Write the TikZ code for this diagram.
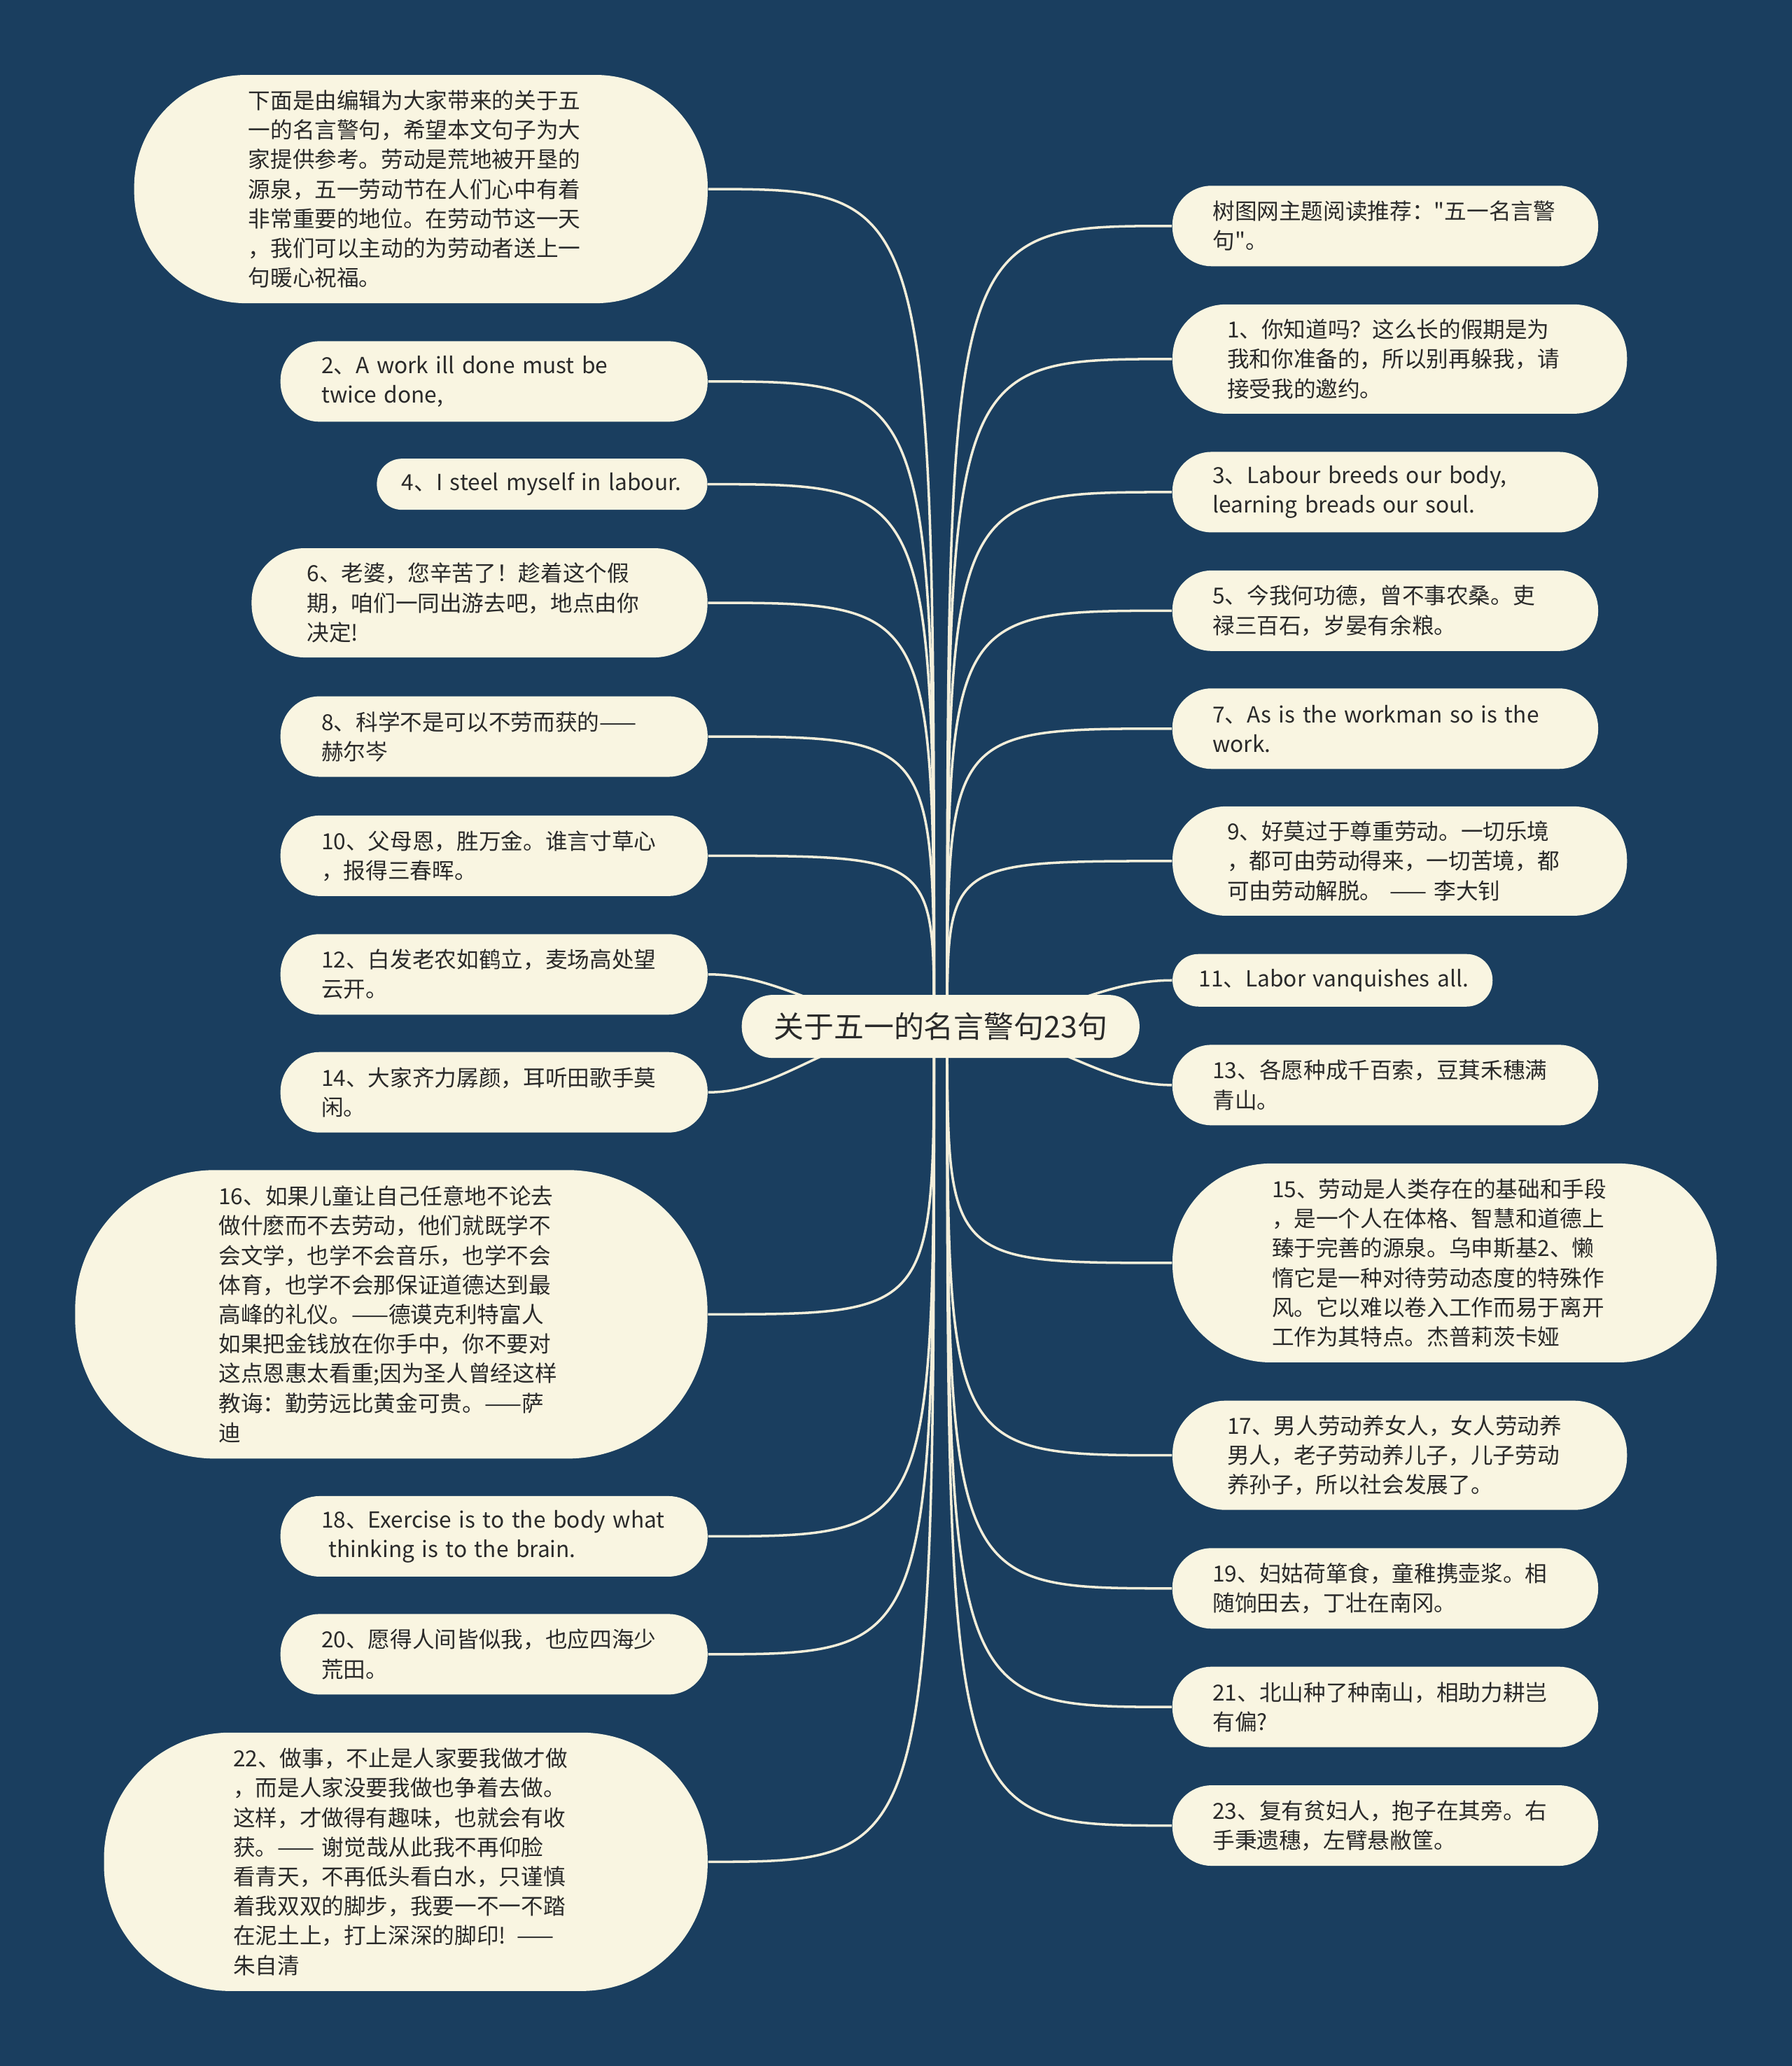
\documentclass[tikz,border=0pt]{standalone}
\usepackage{fontspec}
\setmainfont{Noto Sans CJK SC}[Ligatures=TeXOff]
\usepackage{tikz}
\definecolor{navy}{HTML}{1A3E5F}
\definecolor{cream}{HTML}{F9F5E1}
\definecolor{ink}{HTML}{2A2A2A}
\definecolor{wire}{HTML}{F3EEDA}
\pgfdeclarelayer{back}
\pgfdeclarelayer{wires}
\pgfsetlayers{back,wires,main}
\tikzset{
  every picture/.style={line join=round, line cap=round},
  leaf/.style={fill=cream, text=ink, font=\fontsize{9}{12}\selectfont, align=left, text width=4.93cm, inner xsep=0pt, inner ysep=0pt},
  duo/.style={minimum width=6.10cm, minimum height=1.15cm, rounded corners=0.56cm},
  trio/.style={minimum width=6.49cm, minimum height=1.56cm, rounded corners=0.76cm},
  hubbox/.style={fill=cream, text=ink, font=\fontsize{12.2}{15}\selectfont, minimum width=5.68cm, minimum height=0.9cm, rounded corners=0.44cm, inner sep=0pt},
  wire/.style={draw=wire, line width=1pt},
}

\begin{document}
\begin{tikzpicture}[x=0.01882cm, y=-0.01882cm]
\begin{pgfonlayer}{back}
\fill[navy] (0,0) rectangle (1360,1568);
\end{pgfonlayer}

\node[hubbox] (hub) at (714,779) {关于五一的名言警句23句};
\coordinate (hubL) at (709,779);
\coordinate (hubR) at (719,779);

\node[leaf, minimum width=8.19cm, minimum height=3.26cm, rounded corners=1.6cm] (intro) at (319.5,143.5) {下面是由编辑为大家带来的关于五\\一的名言警句，希望本文句子为大\\家提供参考。劳动是荒地被开垦的\\源泉，五一劳动节在人们心中有着\\非常重要的地位。在劳动节这一天\\，我们可以主动的为劳动者送上一\\句暖心祝福。};
\node[leaf, duo] (q2) at (375,289.5) {2、A work ill done must be\\twice done,};
\node[leaf, text width=4.01cm, minimum width=4.72cm, minimum height=0.73cm, rounded corners=0.36cm] (q4) at (411.5,367.5) {\mbox{4、I steel myself in labour.}};
\node[leaf, trio, minimum width=6.51cm] (q6) at (364,457.5) {6、老婆，您辛苦了！趁着这个假\\期，咱们一同出游去吧，地点由你\\决定!};
\node[leaf, duo] (q8) at (375,559) {8、科学不是可以不劳而获的——\\赫尔岑};
\node[leaf, duo] (q10) at (375,649.5) {10、父母恩，胜万金。谁言寸草心\\，报得三春晖。};
\node[leaf, duo] (q12) at (375,739.5) {12、白发老农如鹤立，麦场高处望\\云开。};
\node[leaf, duo] (q14) at (375,829) {14、大家齐力孱颜，耳听田歌手莫\\闲。};
\node[leaf, minimum width=9.03cm, minimum height=4.12cm, rounded corners=2.0cm] (q16) at (297,997.5) {16、如果儿童让自己任意地不论去\\做什麽而不去劳动，他们就既学不\\会文学，也学不会音乐，也学不会\\体育，也学不会那保证道德达到最\\高峰的礼仪。——德谟克利特富人\\如果把金钱放在你手中，你不要对\\这点恩惠太看重;因为圣人曾经这样\\教诲：勤劳远比黄金可贵。——萨\\迪};
\node[leaf, duo] (q18) at (375,1166) {18、Exercise is to the body what\\\hspace*{3pt}thinking is to the brain.};
\node[leaf, duo] (q20) at (375,1255.5) {20、愿得人间皆似我，也应四海少\\荒田。};
\node[leaf, minimum width=8.62cm, minimum height=3.69cm, rounded corners=1.8cm] (q22) at (308,1413) {22、做事，不止是人家要我做才做\\，而是人家没要我做也争着去做。\\这样，才做得有趣味，也就会有收\\获。—— 谢觉哉从此我不再仰脸\\看青天，不再低头看白水，只谨慎\\着我双双的脚步，我要一不一不踏\\在泥土上，打上深深的脚印! ——\\朱自清};

\node[leaf, duo, minimum width=6.08cm] (rec) at (1051.5,171.5) {树图网主题阅读推荐："五一名言警\\句"。};
\node[leaf, trio] (q1) at (1062.5,272.5) {1、你知道吗？这么长的假期是为\\我和你准备的，所以别再躲我，请\\接受我的邀约。};
\node[leaf, duo, minimum width=6.08cm] (q3) at (1051.5,373.5) {3、Labour breeds our body,\\learning breads our soul.};
\node[leaf, duo, minimum width=6.08cm] (q5) at (1051.5,463.5) {5、今我何功德，曾不事农桑。吏\\禄三百石，岁晏有余粮。};
\node[leaf, duo, minimum width=6.08cm] (q7) at (1051.5,553) {7、As is the workman so is the\\work.};
\node[leaf, trio] (q9) at (1062.5,653.5) {9、好莫过于尊重劳动。一切乐境\\，都可由劳动得来，一切苦境，都\\可由劳动解脱。 —— 李大钊};
\node[leaf, text width=3.82cm, minimum width=4.57cm, minimum height=0.75cm, rounded corners=0.37cm] (q11) at (1011.5,744) {\mbox{11、Labor vanquishes all.}};
\node[leaf, duo, minimum width=6.08cm] (q13) at (1051.5,823.5) {13、各愿种成千百索，豆萁禾穗满\\青山。};
\node[leaf, minimum width=7.77cm, minimum height=2.84cm, rounded corners=1.4cm] (q15) at (1096.5,958.5) {15、劳动是人类存在的基础和手段\\，是一个人在体格、智慧和道德上\\臻于完善的源泉。乌申斯基2、懒\\惰它是一种对待劳动态度的特殊作\\风。它以难以卷入工作而易于离开\\工作为其特点。杰普莉茨卡娅};
\node[leaf, trio] (q17) at (1062.5,1104.5) {17、男人劳动养女人，女人劳动养\\男人，老子劳动养儿子，儿子劳动\\养孙子，所以社会发展了。};
\node[leaf, duo, minimum width=6.08cm] (q19) at (1051.5,1205.5) {19、妇姑荷箪食，童稚携壶浆。相\\随饷田去，丁壮在南冈。};
\node[leaf, duo, minimum width=6.08cm] (q21) at (1051.5,1295.5) {21、北山种了种南山，相助力耕岂\\有偏?};
\node[leaf, duo, minimum width=6.08cm] (q23) at (1051.5,1385.5) {23、复有贫妇人，抱子在其旁。右\\手秉遗穗，左臂悬敝筐。};

\begin{pgfonlayer}{wires}
\foreach \n in {intro,q2,q4,q6,q8,q10,q16,q18,q20,q22}
  \draw[wire] (\n.east) .. controls (hubL |- \n.east) .. (hubL);
\foreach \n in {rec,q1,q3,q5,q7,q9,q15,q17,q19,q21,q23}
  \draw[wire] (\n.west) .. controls (hubR |- \n.west) .. (hubR);
\foreach \n in {q12,q14}
  \draw[wire] (\n.east) .. controls +(60,0) and +(-80,0) .. (hub.center);
\foreach \n in {q11,q13}
  \draw[wire] (\n.west) .. controls +(-60,0) and +(80,0) .. (hub.center);
\end{pgfonlayer}
\end{tikzpicture}
\end{document}
